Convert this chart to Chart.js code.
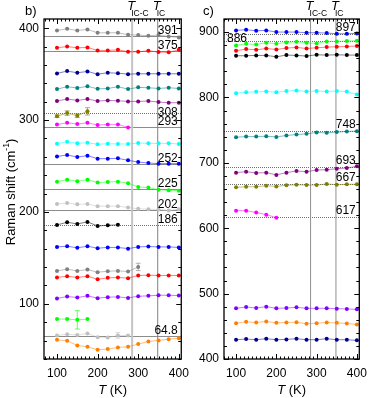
<!DOCTYPE html>
<html>
<head>
<meta charset="utf-8">
<script src="https://cdn.jsdelivr.net/npm/chart.js@4.4.1/dist/chart.umd.min.js"></script>
<style>
html, body { margin: 0; padding: 0; background: #fff; }
#wrap { position: relative; width: 374px; height: 398px; overflow: hidden; }
#chartB { position: absolute; left: 0; top: 0; }
#chartC { position: absolute; left: 186px; top: 0; }
</style>
</head>
<body>
<div id="wrap">
  <canvas id="chartB" width="196" height="398"></canvas>
  <canvas id="chartC" width="188" height="398"></canvas>
</div>
<script>
const FONT = "'Liberation Sans', Arial, sans-serif";

const temps = [100, 125, 150, 175, 200, 225, 250, 275, 300, 325, 350, 375, 400];
const transitions = [285, 348];

// panel b) modes
const bGray1   = [397.5, 399.3, 397.5, 398.6, 395, 395, 395, 392.8, 392.5, 391.7, 392.5, 391, 390];
const bRed1    = [378.7, 380, 378.7, 379, 375.8, 375.8, 376.5, 374.3, 374.3, 375.4, 374, 373.7, 376.5];
const bNavy    = [350.8, 353.3, 351.5, 352.9, 350, 351.5, 351, 350, 350.4, 350.4, 350.4, 350.4, 350.4];
const bTeal    = [333.7, 336.3, 334.9, 336.7, 334, 334.4, 336.3, 333.7, 335.6, 335.2, 334.4, 335.2, 334.4];
const bPurple  = [320.7, 322.9, 321.4, 322.9, 320.7, 321.4, 321, 320.3, 320.3, 320.7, 319.6, 318.9, 318.9];
const bOlive   = [304.3, 307.6, 304.7, 309.5];
const bOliveErr = [1.5, 2.5, 2, 4];
const bMagenta = [295.3, 297, 295.7, 297, 294.6, 295.3, 295.3, 292];
const bCyan    = [274.3, 276.5, 274.7, 275.4, 273.7, 274.3, 274, 274, 275, 274.7, 274.7, 274.7, 274];
const bBlue1   = [260.5, 262, 259.8, 261.3, 258, 258, 258.4, 256.2, 254.3, 253.3, 252.6, 252.6, 252.6];
const bGreen1  = [233, 235.2, 233.4, 235.2, 232, 232.7, 233, 231.3, 227.2, 226.5, 224.3, 223.6, 223.2];
const bSilver1 = [208.7, 209.8, 208.3, 208.7, 206.3, 206.3, 206.3, 204.9, 203.4, 203, 202.7, 201.6, 203];
const bBlack   = [185.9, 188.8, 187, 189.2, 184.8, 185.5, 186];
const bBlue2   = [162, 162.7, 161, 162.7, 160.6, 161.4, 161.4, 160.1, 162, 162.4, 162, 162, 161.4];
const bGray2   = [135.9, 137.7, 135.9, 137.3, 134.5, 135.5, 135.9, 135.2, 140.2];
const bGray2Err = [0, 0, 0, 0, 0, 0, 0, 0, 4];
const bRed2    = [128.7, 130.1, 128.7, 130.1, 126.8, 128.3, 128.7, 128, 130.9, 131.2, 130.9, 130.9, 130.9];
const bViolet  = [105.9, 108, 106.9, 108.7, 106.2, 107.3, 107.6, 106.5, 108.3, 108.7, 109.4, 109.4, 109];
const bGreen2  = [83.4, 83.4, 82.6, 83.4];
const bGreen2Err = [0, 0, 10, 0];
const bSilver2 = [65.6, 67, 66, 67.8, 63.8, 63.4, 65.6, 65.6];
const bSilver2Err = [0, 0, 0, 0, 0, 0, 3, 0];
const bOrange  = [60.9, 59.8, 54.8, 53.3, 50, 50.8, 52.6, 53.3, 56.2, 59.1, 60.2, 61.6, 62.7];
const bSolidRefs  = [391, 375, 293, 252, 225, 202, 64.8];
const bDottedRefs = [308, 186];

// panel c) modes
const cBlue    = [902.6, 903.6, 902, 902.6, 900, 900, 900, 899, 899, 898.5, 897.4, 897.4, 898];
const cGreen   = [879.6, 882.1, 881, 883.7, 882, 884.2, 885.2, 883.7, 882.6, 885.7, 885.7, 886.2, 886.7];
const cRed     = [871.4, 874, 872.9, 874.9, 873.4, 875.5, 876.5, 874.9, 876, 877, 877.5, 878, 878.6];
const cBlack   = [863.8, 863.8, 864.3, 864.3, 862.2, 864.8, 864.3, 863.3, 865.3, 864.8, 865.3, 864.8, 864.8];
const cCyan    = [806.6, 808, 808.6, 809.1, 808, 809.7, 810.7, 809.1, 809.7, 809.1, 809.7, 809.1, 804.5];
const cTeal    = [739.2, 740.2, 740.2, 740.7, 739.7, 741.8, 743.3, 744.4, 746.4, 745.9, 747, 748, 748.5];
const cPurple  = [685, 686.5, 684.5, 685, 681.6, 685, 687.6, 686.5, 689, 689.5, 691, 692.1, 694.7];
const cOlive   = [662.5, 663.5, 663.5, 665, 664, 665.6, 666.6, 666, 666, 667.7, 666.6, 667.2, 667.2];
const cMagenta = [626.9, 626.9, 623.9, 620.8, 616.2];
const cViolet  = [477.5, 479.6, 478, 480.1, 477.5, 478, 479, 477.5, 477.5, 477.5, 477, 476.5, 476];
const cOrange  = [454.8, 456.8, 455.8, 457.4, 455.3, 455.8, 456.3, 453.8, 454.8, 455.8, 455.3, 454.3, 452.8];
const cNavy    = [429.5, 430.5, 429.5, 431, 429.5, 430, 431, 429.5, 429.5, 431, 429.5, 429.5, 428.5];
const cDottedRefs = [897, 886, 748, 693, 667, 617];

const bSeries = [
  { vals: bGray1, color: "#808080" }, { vals: bRed1, color: "#ff0000" },
  { vals: bNavy, color: "#000090" }, { vals: bTeal, color: "#008080" },
  { vals: bPurple, color: "#800080" }, { vals: bOlive, color: "#808000", err: bOliveErr },
  { vals: bMagenta, color: "#ff00ff" }, { vals: bCyan, color: "#00ffff" },
  { vals: bBlue1, color: "#0000ff" }, { vals: bGreen1, color: "#00ff00" },
  { vals: bSilver1, color: "#c0c0c0" }, { vals: bBlack, color: "#000000" },
  { vals: bBlue2, color: "#0000ff" }, { vals: bGray2, color: "#808080", err: bGray2Err },
  { vals: bRed2, color: "#ff0000" }, { vals: bViolet, color: "#8000ff" },
  { vals: bGreen2, color: "#00ff00", err: bGreen2Err }, { vals: bSilver2, color: "#c0c0c0", err: bSilver2Err },
  { vals: bOrange, color: "#ff8000" }
];
const cSeries = [
  { vals: cBlue, color: "#0000ff" }, { vals: cGreen, color: "#00ff00" },
  { vals: cRed, color: "#ff0000" }, { vals: cBlack, color: "#000000" },
  { vals: cCyan, color: "#00ffff" }, { vals: cTeal, color: "#008080" },
  { vals: cPurple, color: "#800080" }, { vals: cOlive, color: "#808000" },
  { vals: cMagenta, color: "#ff00ff" }, { vals: cViolet, color: "#8000ff" },
  { vals: cOrange, color: "#ff8000" }, { vals: cNavy, color: "#000090" }
];

function fade(hex, a) {
  const n = parseInt(hex.slice(1), 16);
  return `rgba(${n >> 16},${(n >> 8) & 255},${n & 255},${a})`;
}

function drawT(ctx, x, y, sub) {
  ctx.fillStyle = "#000";
  ctx.textAlign = "left";
  ctx.textBaseline = "alphabetic";
  ctx.font = "italic 13px " + FONT;
  ctx.fillText("T", x - 5, y);
  ctx.font = "8.5px " + FONT;
  ctx.fillText(sub, x - 1, y + 5.5);
}

function decor(cfg) {
  return {
    id: "decor",
    beforeDatasetsDraw(chart) {
      const { ctx, chartArea: a, scales: { x, y } } = chart;
      ctx.save();
      ctx.beginPath();
      ctx.rect(a.left, a.top, a.right - a.left, a.bottom - a.top);
      ctx.clip();
      const hline = (v, dotted) => {
        const py = Math.round(y.getPixelForValue(v)) + 0.5;
        ctx.setLineDash(dotted ? [1, 1] : []);
        ctx.strokeStyle = dotted ? "#707070" : "#8c8c8c";
        ctx.lineWidth = 1;
        ctx.beginPath();
        ctx.moveTo(a.left, py);
        ctx.lineTo(a.right, py);
        ctx.stroke();
      };
      cfg.solid.forEach(v => hline(v, false));
      cfg.dotted.forEach(v => hline(v, true));
      ctx.setLineDash([]);
      transitions.forEach((t, i) => {
        const px = x.getPixelForValue(t);
        ctx.strokeStyle = cfg.vColors[i];
        ctx.lineWidth = cfg.vWidths[i];
        ctx.beginPath();
        ctx.moveTo(px, a.top);
        ctx.lineTo(px, a.bottom);
        ctx.stroke();
      });
      ctx.restore();
    },
    afterDatasetsDraw(chart) {
      const { ctx, chartArea: a, scales: { x, y } } = chart;
      ctx.save();
      // error bars
      cfg.series.forEach(s => {
        if (!s.err) return;
        ctx.strokeStyle = fade(s.color, 0.6);
        ctx.lineWidth = 1;
        s.vals.forEach((v, i) => {
          const e = s.err[i];
          if (!e) return;
          const px = x.getPixelForValue(temps[i]);
          const y1 = y.getPixelForValue(v + e), y2 = y.getPixelForValue(v - e);
          ctx.beginPath();
          ctx.moveTo(px, y1); ctx.lineTo(px, y2);
          ctx.moveTo(px - 2.5, y1); ctx.lineTo(px + 2.5, y1);
          ctx.moveTo(px - 2.5, y2); ctx.lineTo(px + 2.5, y2);
          ctx.stroke();
        });
      });
      // reference labels
      ctx.fillStyle = "#000";
      ctx.font = "12px " + FONT;
      ctx.textBaseline = "alphabetic";
      cfg.solid.concat(cfg.dotted).forEach(v => {
        const txt = String(v);
        const py = y.getPixelForValue(v);
        if (cfg.leftLabels.includes(txt)) {
          ctx.textAlign = "left";
          ctx.fillText(txt, a.left + 3, py + 0.5);
        } else {
          ctx.textAlign = "right";
          const dy = cfg.lowLabels.includes(txt) ? 3 : cfg.labelDy;
          ctx.fillText(txt, a.right - 3.5, py + dy);
        }
      });
      // frame
      ctx.strokeStyle = "#000";
      ctx.lineWidth = 1.3;
      ctx.strokeRect(a.left, a.top, a.right - a.left, a.bottom - a.top);
      ctx.lineWidth = 1;
      ctx.beginPath();
      for (let t = Math.ceil(x.min / 10) * 10; t <= x.max; t += 10) {
        const px = Math.round(x.getPixelForValue(t)) + 0.5;
        const len = t % 100 === 0 ? 5 : 2.5;
        ctx.moveTo(px, a.bottom); ctx.lineTo(px, a.bottom - len);
        ctx.moveTo(px, a.top); ctx.lineTo(px, a.top + len);
      }
      for (let v = Math.ceil(y.min / 20) * 20; v <= y.max; v += 20) {
        const py = Math.round(y.getPixelForValue(v)) + 0.5;
        const len = v % 100 === 0 ? 5 : 3;
        ctx.moveTo(a.left, py); ctx.lineTo(a.left + len, py);
        ctx.moveTo(a.right, py); ctx.lineTo(a.right - len, py);
      }
      ctx.stroke();
      // transition labels
      drawT(ctx, x.getPixelForValue(transitions[0]), 10, "IC-C");
      drawT(ctx, x.getPixelForValue(transitions[1]), 10, "IC");
      // panel tag
      ctx.textAlign = "left";
      ctx.font = "13px " + FONT;
      ctx.fillText(cfg.tag, cfg.tagX, 14.5);
      // x title
      ctx.font = "italic 13px " + FONT;
      const wT = ctx.measureText("T").width;
      ctx.font = "13px " + FONT;
      const wK = ctx.measureText(" (K)").width;
      const x0 = (a.left + a.right) / 2 - (wT + wK) / 2;
      ctx.font = "italic 13px " + FONT;
      ctx.fillText("T", x0, 393.5);
      ctx.font = "13px " + FONT;
      ctx.fillText(" (K)", x0 + wT, 393.5);
      // y title
      if (cfg.yTitle) {
        ctx.translate(11, (a.top + a.bottom) / 2 + 3);
        ctx.rotate(-Math.PI / 2);
        ctx.textBaseline = "middle";
        ctx.font = "13px " + FONT;
        const p1 = "Raman shift (cm", p3 = ")";
        const w1 = ctx.measureText(p1).width, w3 = ctx.measureText(p3).width;
        ctx.font = "8.5px " + FONT;
        const w2 = ctx.measureText("-1").width;
        let sx = -(w1 + w2 + w3) / 2;
        ctx.font = "13px " + FONT;
        ctx.fillText(p1, sx, 0);
        ctx.font = "8.5px " + FONT;
        ctx.fillText("-1", sx + w1, -4.5);
        ctx.font = "13px " + FONT;
        ctx.fillText(p3, sx + w1 + w2, 0);
      }
      ctx.restore();
    }
  };
}

function makeChart(id, cfg) {
  const tickFont = { family: FONT, size: 12 };
  return new Chart(document.getElementById(id), {
    type: "line",
    data: {
      datasets: cfg.series.map(s => ({
        data: s.vals.map((v, i) => ({ x: temps[i], y: v })),
        borderColor: fade(s.color, 0.5),
        borderWidth: 1,
        pointBackgroundColor: s.color,
        pointBorderWidth: 0,
        pointRadius: 2,
        tension: 0,
        fill: false
      }))
    },
    options: {
      responsive: false,
      animation: false,
      events: [],
      layout: { padding: cfg.padding },
      plugins: { legend: { display: false }, tooltip: { enabled: false } },
      scales: {
        x: {
          type: "linear", min: cfg.xMin, max: cfg.xMax,
          ticks: { stepSize: 100, includeBounds: false, padding: 7, maxRotation: 0, color: "#000", font: tickFont },
          grid: { display: false, drawTicks: false },
          border: { display: false },
          afterFit: s => { s.height = 39; }
        },
        y: {
          type: "linear", min: cfg.yMin, max: cfg.yMax,
          ticks: { stepSize: 100, includeBounds: false, padding: 5, color: "#000", font: tickFont },
          grid: { display: false, drawTicks: false },
          border: { display: false },
          afterFit: s => { s.width = cfg.yWidth; }
        }
      }
    },
    plugins: [decor(cfg)]
  });
}

makeChart("chartB", {
  series: bSeries, solid: bSolidRefs, dotted: bDottedRefs,
  leftLabels: [], lowLabels: ["308"], labelDy: -2,
  xMin: 68, xMax: 406, yMin: 40, yMax: 410, yWidth: 44,
  padding: { left: 0, right: 9, top: 19, bottom: 0 },
  vColors: ["#c4c4c4", "#808080"], vWidths: [2, 1],
  tag: "b)", tagX: 25, yTitle: true
});

makeChart("chartC", {
  series: cSeries, solid: [], dotted: cDottedRefs,
  leftLabels: ["886"], lowLabels: [], labelDy: -3,
  xMin: 70, xMax: 406, yMin: 400, yMax: 920, yWidth: 38,
  padding: { left: 0, right: 6, top: 19, bottom: 0 },
  vColors: ["#909090", "#909090"], vWidths: [1, 1],
  tag: "c)", tagX: 17, yTitle: false
});
</script>
</body>
</html>
